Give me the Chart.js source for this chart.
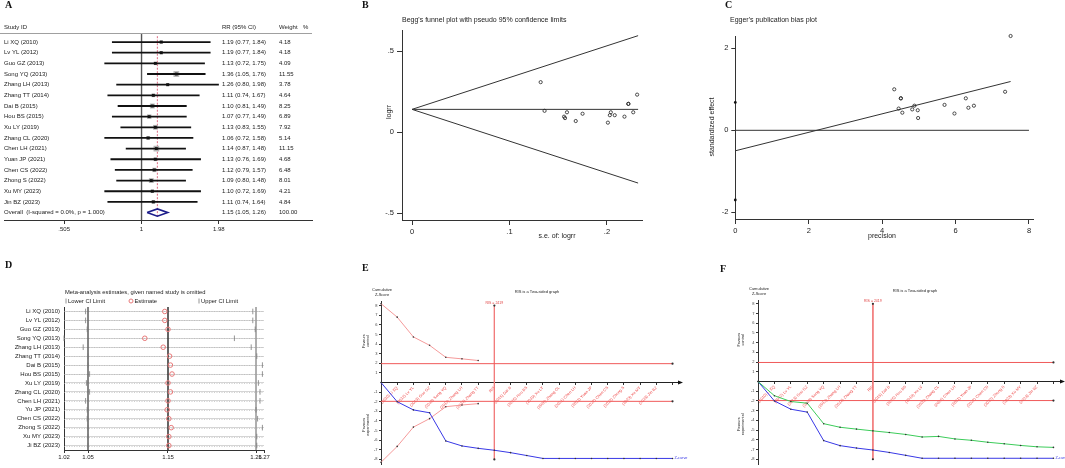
<!DOCTYPE html>
<html>
<head>
<meta charset="utf-8">
<title>Meta-analysis figure</title>
<script src="https://cdn.jsdelivr.net/npm/chart.js@4.4.1/dist/chart.umd.min.js"></script>
<style>
  html, body { margin: 0; padding: 0; background: #fff; }
  body { position: relative; width: 1065px; height: 468px; overflow: hidden; }
  canvas { position: absolute; }
  .tag { position: absolute; font: bold 10px/10px "Liberation Serif", "DejaVu Serif", serif; color: #111; }
</style>
</head>
<body>
<canvas id="chA" width="330" height="240" style="left:0;top:0"></canvas>
<canvas id="chB" width="340" height="250" style="left:360px;top:0"></canvas>
<canvas id="chC" width="365" height="250" style="left:700px;top:0"></canvas>
<canvas id="chD" width="340" height="218" style="left:0;top:250px"></canvas>
<canvas id="chE" width="340" height="218" style="left:360px;top:250px"></canvas>
<canvas id="chF" width="365" height="218" style="left:700px;top:250px"></canvas>
<div class="tag" style="left:5px;top:0px">A</div>
<div class="tag" style="left:362px;top:0px">B</div>
<div class="tag" style="left:725px;top:0px">C</div>
<div class="tag" style="left:5px;top:260px">D</div>
<div class="tag" style="left:362px;top:263px">E</div>
<div class="tag" style="left:720px;top:264px">F</div>
<script>
// ---- A: forest plot
const studies = ["Li XQ (2010)","Lv YL (2012)","Guo GZ (2013)","Song YQ (2013)","Zhang LH (2013)","Zhang TT (2014)","Dai B (2015)","Hou BS (2015)","Xu LY (2019)","Zhang CL (2020)","Chen LH (2021)","Yuan JP (2021)","Chen CS (2022)","Zhong S (2022)","Xu MY (2023)","Jin BZ (2023)"];
const rr      = [1.19,1.19,1.13,1.36,1.26,1.11,1.10,1.07,1.13,1.06,1.14,1.13,1.12,1.09,1.10,1.11];
const rrLow   = [0.77,0.77,0.72,1.05,0.80,0.74,0.81,0.77,0.83,0.72,0.87,0.76,0.79,0.80,0.72,0.74];
const rrHigh  = [1.84,1.84,1.75,1.76,1.98,1.67,1.49,1.49,1.55,1.58,1.48,1.69,1.57,1.48,1.69,1.64];
const weights = [4.18,4.18,4.09,11.55,3.78,4.64,8.25,6.89,7.92,5.14,11.15,4.68,6.48,8.01,4.21,4.84];
const pooled = [1.15, 1.05, 1.26];       // RR, lower, upper
const pooledLabel = "Overall  (I-squared = 0.0%, p = 1.000)";
const forestTicks = [0.505, 1, 1.98];
const forestTickLabels = [".505", "1", "1.98"];

// ---- B: Begg's funnel
const begSE    = [0.222,0.222,0.227,0.132,0.231,0.208,0.156,0.168,0.159,0.201,0.136,0.204,0.175,0.157,0.218,0.203];
const begLogRR = [0.174,0.174,0.122,0.308,0.231,0.104,0.095,0.068,0.122,0.058,0.131,0.122,0.113,0.086,0.095,0.104];
const begPooled = 0.14;
const begMaxSE = 0.232;
const begLimits = [0.595, -0.315];      // pseudo 95% limits at the largest s.e.
const begTicksX = [0, 0.1, 0.2];
const begTicksY = [-0.5, 0, 0.5];

// ---- C: Egger
const eggPrec   = [4.51,4.51,4.45,7.50,4.33,4.82,6.50,5.97,6.28,4.98,7.35,4.88,5.70,6.35,4.55,4.97];
const eggEffect = [0.78,0.78,0.53,2.30,1.00,0.51,0.60,0.41,0.78,0.30,0.94,0.60,0.62,0.55,0.43,0.49];
const eggFitX = [0, 7.5];
const eggFitY = [-0.5, 1.19];
const eggCI = [0.68, -1.7];
const eggTicksX = [0, 2, 4, 6, 8];
const eggTicksY = [-2, 0, 2];

// ---- D: leave-one-out
const dStudies = ["Li XQ (2010)","Lv YL (2012)","Guo GZ (2013)","Song YQ (2013)","Zhang LH (2013)","Zhang TT (2014)","Dai B (2015)","Hou BS (2015)","Xu LY (2019)","Zhang CL (2020)","Chen LH (2021)","Yu JP (2021)","Chen CS (2022)","Zhong S (2022)","Xu MY (2023)","Ji BZ (2023)"];
const omitEst  = [1.146,1.146,1.150,1.121,1.144,1.152,1.153,1.155,1.150,1.153,1.150,1.149,1.151,1.154,1.151,1.151];
const omitLow  = [1.047,1.047,1.049,1.020,1.044,1.050,1.050,1.052,1.048,1.052,1.047,1.049,1.049,1.050,1.050,1.050];
const omitHigh = [1.256,1.256,1.259,1.233,1.254,1.261,1.268,1.268,1.263,1.265,1.265,1.260,1.262,1.268,1.261,1.261];
const omitTicks = [1.02, 1.05, 1.15, 1.26, 1.27];
const omitRefs = [1.05, 1.15, 1.26];

// ---- E / F: trial sequential analysis
const tsaLabels = ["","(2010) Li XQ","(2012) Lv YL","(2013) Guo GZ","(2013) Song YQ","(2013) Zhang LH","(2014) Zhang TT","RIS","(2015) Dai B","(2015) Hou BS","(2019) Xu LY","(2020) Zhang CL","(2021) Chen LH","(2021) Yuan JP","(2022) Chen CS","(2022) Zhong S","(2023) Xu MY","(2023) Jin BZ",""];
const zCurve    = [0,-2.0,-2.85,-3.15,-6.08,-6.6,-6.85,-7.05,-7.3,-7.6,-7.9,-7.9,-7.9,-7.9,-7.9,-7.9,-7.9,-7.9,-7.9];
const zCurveAlt = [0,-1.46,-2.06,-2.23,-4.34,-4.71,-4.9,-5.08,-5.25,-5.45,-5.71,-5.65,-5.91,-6.05,-6.25,-6.41,-6.58,-6.72,-6.78];
const boundUpper = [8.2,6.8,4.74,3.87,2.62,2.46,2.29];
const boundLower = [-8.3,-6.65,-4.64,-3.76,-2.52,-2.34,-2.2];
const zCrit = 1.96;
const risPos = 7;
const risLabel = "RIS = 2419";
const tsaTicksY = [8,7,6,5,4,3,2,1,-1,-2,-3,-4,-5,-6,-7,-8];

Chart.defaults.font.family = '"Liberation Sans", Arial, Helvetica, sans-serif';
Chart.defaults.color = '#222';
Chart.defaults.animation = false;
Chart.defaults.events = [];
Chart.defaults.responsive = false;
Chart.defaults.plugins.legend.display = false;
Chart.defaults.plugins.tooltip.enabled = false;
Chart.defaults.elements.point.radius = 0;
Chart.defaults.elements.line.borderWidth = 1;

function txt(ctx, s, x, y, size, opt = {}) {
  ctx.save();
  ctx.font = `${size}px "Liberation Sans", Arial, sans-serif`;
  ctx.fillStyle = opt.color || '#222';
  ctx.textAlign = opt.align || 'left';
  ctx.textBaseline = 'middle';
  ctx.translate(x, y);
  if (opt.rot) ctx.rotate(opt.rot);
  ctx.fillText(s, 0, 0);
  ctx.restore();
}
const stataNum = v => String(v).replace(/^(-?)0\./, '$1.');
const setTicks = list => s => { s.ticks = list.map(v => ({ value: v })); };
const axisGrid = len => ({ drawOnChartArea: false, drawTicks: true, tickLength: len, color: '#333' });

// ================= A
new Chart(document.getElementById('chA'), {
  type: 'line',
  data: { datasets: [
    { data: [
        { x: pooled[1], y: 16 }, { x: pooled[0], y: 15.66 }, { x: pooled[2], y: 16 },
        { x: pooled[0], y: 16.34 }, { x: pooled[1], y: 16 }],
      borderColor: '#1c1c8a', borderWidth: 1.6, order: 0 },
    { data: rr.map((v, i) => ({ x: v, y: i })), showLine: false, pointStyle: 'rect',
      pointRadius: 2, pointBackgroundColor: '#111', pointBorderWidth: 0, order: 1 },
    { data: rr.flatMap((v, i) => [{ x: rrLow[i], y: i }, { x: rrHigh[i], y: i }, { x: null, y: null }]),
      borderColor: '#111', borderWidth: 1.8, spanGaps: false, order: 2 },
    { data: rr.map((v, i) => ({ x: v, y: i })), showLine: false, pointStyle: 'rect',
      pointRadius: weights.map(w => 1.2 * Math.sqrt(w)), pointBackgroundColor: '#b4b4b4', pointBorderWidth: 0, order: 3 },
    { data: [{ x: pooled[0], y: -0.55 }, { x: pooled[0], y: 16.5 }],
      borderColor: '#dc6a80', borderDash: [2, 1.5], borderWidth: 1, order: 4 },
    { data: [{ x: 1, y: -0.85 }, { x: 1, y: 16.7 }], borderColor: '#555', borderWidth: 1.4, order: 5 }
  ] },
  options: {
    layout: { padding: { left: 1, right: 18, top: 33, bottom: 0 } },
    scales: {
      x: { type: 'logarithmic', min: 0.2967, max: 4.508, afterFit: s => { s.height = 20; },
           afterBuildTicks: setTicks(forestTicks),
           ticks: { callback: (v, i) => forestTickLabels[i], autoSkip: false, maxRotation: 0, font: { size: 6 }, padding: 2 },
           grid: axisGrid(4), border: { color: '#333' } },
      y: { type: 'linear', reverse: true, min: -0.85, max: 16.7, display: false }
    }
  },
  plugins: [{
    id: 'forestText',
    afterDraw(chart) {
      const { ctx, chartArea: a, scales: { y } } = chart;
      ctx.save();
      ctx.strokeStyle = '#a0a0a0';
      ctx.beginPath(); ctx.moveTo(0, a.top + 0.5); ctx.lineTo(a.right, a.top + 0.5); ctx.stroke();
      ctx.restore();
      txt(ctx, 'Study ID', 4, 27.5, 6);
      txt(ctx, 'RR (95% CI)', 222, 27.5, 6);
      txt(ctx, 'Weight', 279, 27.5, 6);
      txt(ctx, '%', 303, 27.5, 6);
      studies.forEach((s, i) => {
        const py = y.getPixelForValue(i);
        txt(ctx, s, 4, py, 6);
        txt(ctx, `${rr[i].toFixed(2)} (${rrLow[i].toFixed(2)}, ${rrHigh[i].toFixed(2)})`, 222, py, 6);
        txt(ctx, weights[i].toFixed(2), 279, py, 6);
      });
      const po = y.getPixelForValue(studies.length);
      txt(ctx, pooledLabel, 4, po, 6);
      txt(ctx, `${pooled[0].toFixed(2)} (${pooled[1].toFixed(2)}, ${pooled[2].toFixed(2)})`, 222, po, 6);
      txt(ctx, '100.00', 279, po, 6);
    }
  }]
});

// ================= B
new Chart(document.getElementById('chB'), {
  type: 'line',
  data: { datasets: [
    { data: begSE.map((s, i) => ({ x: s, y: begLogRR[i] })), showLine: false, pointRadius: 1.6, clip: false,
      pointBorderColor: '#222', pointBorderWidth: 0.8, pointBackgroundColor: 'rgba(0,0,0,0)' },
    { data: [{ x: 0, y: begPooled }, { x: begMaxSE, y: begLimits[0] }], borderColor: '#333' },
    { data: [{ x: 0, y: begPooled }, { x: begMaxSE, y: begPooled }], borderColor: '#333' },
    { data: [{ x: 0, y: begPooled }, { x: begMaxSE, y: begLimits[1] }], borderColor: '#333' }
  ] },
  options: {
    layout: { padding: { left: 0, right: 58, top: 30, bottom: 0 } },
    scales: {
      x: { type: 'linear', min: -0.0103, max: 0.236, afterFit: s => { s.height = 30; },
           afterBuildTicks: setTicks(begTicksX),
           ticks: { callback: v => stataNum(v), font: { size: 7.5 }, padding: 2, maxRotation: 0 },
           grid: axisGrid(5), border: { color: '#333' } },
      y: { type: 'linear', min: -0.543, max: 0.63, afterFit: s => { s.width = 42; },
           afterBuildTicks: setTicks(begTicksY),
           ticks: { callback: v => stataNum(v), font: { size: 7.5 }, padding: 3 },
           grid: axisGrid(5), border: { color: '#333' } }
    }
  },
  plugins: [{
    id: 'beggText',
    afterDraw(chart) {
      const { ctx } = chart;
      txt(ctx, "Begg's funnel plot with pseudo 95% confidence limits", 42, 20.5, 7);
      txt(ctx, 's.e. of: logrr', 197, 236, 7, { align: 'center' });
      txt(ctx, 'logrr', 29, 112, 7, { align: 'center', rot: -Math.PI / 2 });
    }
  }]
});

// ================= C
new Chart(document.getElementById('chC'), {
  type: 'line',
  data: { datasets: [
    { data: eggPrec.map((p, i) => ({ x: p, y: eggEffect[i] })), showLine: false, pointRadius: 1.6, clip: false,
      pointBorderColor: '#222', pointBorderWidth: 0.8, pointBackgroundColor: 'rgba(0,0,0,0)' },
    { data: eggFitX.map((x, i) => ({ x, y: eggFitY[i] })), borderColor: '#333' },
    { data: [{ x: eggTicksX[0], y: 0 }, { x: eggTicksX[eggTicksX.length - 1], y: 0 }], borderColor: '#333' },
    { data: eggCI.map(v => ({ x: 0, y: v })), showLine: false, pointRadius: 1.4, clip: false,
      pointBackgroundColor: '#111', pointBorderWidth: 0 }
  ] },
  options: {
    layout: { padding: { left: 0, right: 32, top: 36, bottom: 0 } },
    scales: {
      x: { type: 'linear', min: 0, max: 8.11, afterFit: s => { s.height = 31; },
           afterBuildTicks: setTicks(eggTicksX),
           ticks: { font: { size: 7.5 }, padding: 2, maxRotation: 0 },
           grid: axisGrid(5), border: { color: '#333' } },
      y: { type: 'linear', min: -2.163, max: 2.3, afterFit: s => { s.width = 35.3; },
           afterBuildTicks: setTicks(eggTicksY),
           ticks: { font: { size: 7.5 }, padding: 3 },
           grid: axisGrid(4), border: { color: '#333' } }
    }
  },
  plugins: [{
    id: 'eggText',
    afterDraw(chart) {
      const { ctx } = chart;
      txt(ctx, "Egger's publication bias plot", 30, 20.5, 7);
      txt(ctx, 'precision', 182, 236, 7, { align: 'center' });
      txt(ctx, 'standardized effect', 12.5, 127, 7, { align: 'center', rot: -Math.PI / 2 });
    }
  }]
});

// ================= D
new Chart(document.getElementById('chD'), {
  type: 'line',
  data: { datasets: [
    { data: omitEst.map((v, i) => ({ x: v, y: i })), showLine: false, pointRadius: 2.3, clip: false,
      pointBorderColor: '#e87878', pointBorderWidth: 1, pointBackgroundColor: 'rgba(0,0,0,0)' },
    { data: omitLow.map((v, i) => ({ x: v, y: i })), showLine: false, pointStyle: 'line', rotation: 90, clip: false,
      pointRadius: 2.8, pointBorderColor: '#7a7a7a', pointBorderWidth: 0.8 },
    { data: omitHigh.map((v, i) => ({ x: v, y: i })), showLine: false, pointStyle: 'line', rotation: 90, clip: false,
      pointRadius: 2.8, pointBorderColor: '#7a7a7a', pointBorderWidth: 0.8 },
    ...omitRefs.map((v, k) => ({
      data: [{ x: v, y: -0.5 }, { x: v, y: dStudies.length - 0.5 }],
      borderColor: k === 1 ? '#222' : (k === 0 ? '#666' : '#999'), borderWidth: k === 1 ? 1.4 : 0.8
    }))
  ] },
  options: {
    layout: { padding: { left: 0, right: 76, top: 57, bottom: 0 } },
    scales: {
      x: { type: 'linear', min: 1.02, max: 1.27, afterFit: s => { s.height = 18; },
           afterBuildTicks: setTicks(omitTicks),
           ticks: { callback: v => v.toFixed(2), autoSkip: false, maxRotation: 0, font: { size: 6 }, padding: 1 },
           grid: axisGrid(3), border: { color: '#333' } },
      y: { type: 'linear', reverse: true, min: -0.5, max: dStudies.length - 0.5, afterFit: s => { s.width = 64; },
           afterBuildTicks: setTicks(dStudies.map((s, i) => i)),
           ticks: { callback: (v, i) => dStudies[i], autoSkip: false, font: { size: 6 }, padding: 4 },
           grid: { drawTicks: false, color: '#b8b8b8', lineWidth: 0.6 },
           border: { color: '#333' } }
    }
  },
  plugins: [{
    id: 'omitText',
    beforeDatasetsDraw(chart) {
      // dotted row guides
      const { ctx, chartArea: a, scales: { y } } = chart;
      ctx.save();
      ctx.strokeStyle = '#b0b0b0'; ctx.lineWidth = 0.6; ctx.setLineDash([1, 1.5]);
      dStudies.forEach((s, i) => {
        const py = Math.round(y.getPixelForValue(i)) + 0.5;
        ctx.beginPath(); ctx.moveTo(a.left, py); ctx.lineTo(a.right, py); ctx.stroke();
      });
      ctx.restore();
    },
    afterDraw(chart) {
      const { ctx } = chart;
      txt(ctx, 'Meta-analysis estimates, given named study is omitted', 65, 42.5, 5.8);
      const ly = 51;
      ctx.save();
      ctx.strokeStyle = '#7a7a7a'; ctx.lineWidth = 0.8;
      [66, 199].forEach(x => { ctx.beginPath(); ctx.moveTo(x, ly - 2.5); ctx.lineTo(x, ly + 2.5); ctx.stroke(); });
      ctx.strokeStyle = '#e87878'; ctx.lineWidth = 1;
      ctx.beginPath(); ctx.arc(131, ly, 2, 0, Math.PI * 2); ctx.stroke();
      ctx.restore();
      txt(ctx, 'Lower CI Limit', 68, ly, 5.8);
      txt(ctx, 'Estimate', 134.5, ly, 5.8);
      txt(ctx, 'Upper CI Limit', 201, ly, 5.8);
    }
  }]
});

// ================= E / F
function lineSet(points, color, radius, extra = {}) {
  return Object.assign({ data: points, borderColor: color, borderWidth: 1, pointRadius: radius, clip: false,
    pointBackgroundColor: '#333', pointBorderWidth: 0 }, extra);
}
function tsaChart(id, o) {
  const last = tsaLabels.length - 1;
  const sets = [
    lineSet(zCurve.map((v, i) => ({ x: i, y: v })), '#3838e6', 0.8),
    lineSet([{ x: 0, y: zCrit }, { x: last, y: zCrit }], '#f05a5a', [0, 1.1]),
    lineSet([{ x: 0, y: -zCrit }, { x: last, y: -zCrit }], '#f05a5a', [0, 1.1]),
    lineSet([{ x: risPos, y: 8 }, { x: risPos, y: -8 }], '#f27c7c', 1.1)
  ];
  if (o.bounds) {
    sets.push(lineSet(boundUpper.map((v, i) => ({ x: i, y: v })), '#f59a9a', 0.8));
    sets.push(lineSet(boundLower.map((v, i) => ({ x: i, y: v })), '#f59a9a', 0.8));
  }
  if (o.alt) sets.unshift(lineSet(zCurveAlt.map((v, i) => ({ x: i, y: v })), '#3ccc5a', 0.8));

  new Chart(document.getElementById(id), {
    type: 'line',
    data: { datasets: sets },
    options: {
      layout: { padding: { left: 0, right: o.padRight, top: o.padTop, bottom: 0 } },
      scales: {
        x: { type: 'linear', min: 0, max: o.xMax, position: { y: 0 },
             afterBuildTicks: setTicks(tsaLabels.map((l, i) => i)),
             ticks: { callback: (v, i) => tsaLabels[i], autoSkip: false, minRotation: 45, maxRotation: 45,
                      font: { size: 4 }, color: '#ee4848', padding: 1 },
             grid: axisGrid(2), border: { color: '#222' } },
        y: { type: 'linear', min: o.yMin, max: o.yMax, afterFit: s => { s.width = o.axisW; },
             afterBuildTicks: setTicks(tsaTicksY),
             ticks: { font: { size: 4 }, color: '#444', padding: 1.5 },
             grid: axisGrid(2), border: { color: '#333' } }
      }
    },
    plugins: [{
      id: 'tsaText',
      afterDraw(chart) {
        const { ctx, chartArea: a, scales: { x, y } } = chart;
        const y0 = y.getPixelForValue(0);
        ctx.save();
        ctx.fillStyle = '#111';
        ctx.beginPath(); ctx.moveTo(a.right + 4, y0); ctx.lineTo(a.right - 1, y0 - 2); ctx.lineTo(a.right - 1, y0 + 2); ctx.fill();
        ctx.restore();
        txt(ctx, 'Cumulative', a.left + 1, a.top - 11, 4, { align: 'center' });
        txt(ctx, 'Z-Score', a.left + 1, a.top - 6, 4, { align: 'center' });
        txt(ctx, 'RIS is a Two-sided graph', o.titleX, a.top - 9.5, 4, { align: 'center' });
        txt(ctx, risLabel, x.getPixelForValue(risPos), y.getPixelForValue(8) - 3, 3.5, { align: 'center', color: '#e04040' });
        txt(ctx, 'Favours', a.left - o.favOff, y.getPixelForValue(4.3), 3.8, { align: 'center', rot: -Math.PI / 2 });
        txt(ctx, 'control', a.left - o.favOff + 4, y.getPixelForValue(4.3), 3.8, { align: 'center', rot: -Math.PI / 2 });
        txt(ctx, 'Favours', a.left - o.favOff, y.getPixelForValue(-4.4), 3.8, { align: 'center', rot: -Math.PI / 2 });
        txt(ctx, 'experimental', a.left - o.favOff + 4, y.getPixelForValue(-4.4), 3.8, { align: 'center', rot: -Math.PI / 2 });
        txt(ctx, 'Z-curve', x.getPixelForValue(tsaLabels.length - 1) + 2, y.getPixelForValue(zCurve[zCurve.length - 1]), 3.8, { color: '#3838e6' });
      }
    }]
  });
}

tsaChart('chE', { bounds: true, alt: false, axisW: 21, padTop: 51, padRight: 21, xMax: 18.4, yMin: -8.48, yMax: 8.48, titleX: 177, favOff: 17 });
tsaChart('chF', { bounds: false, alt: true, axisW: 58, padTop: 50, padRight: 3, xMax: 18.46, yMin: -8.49, yMax: 8.39, titleX: 215, favOff: 19 });
</script>
</body>
</html>
